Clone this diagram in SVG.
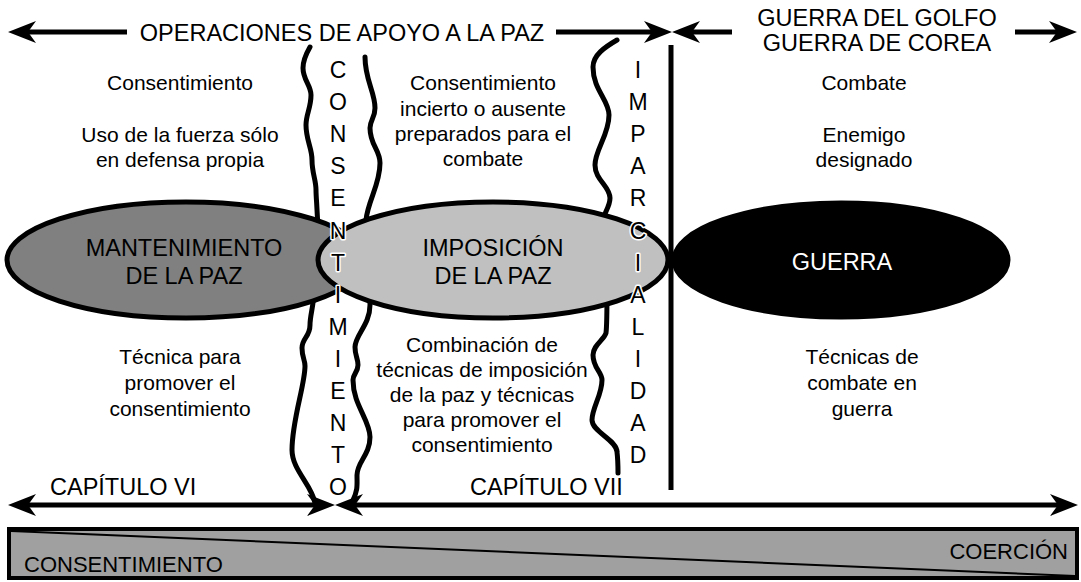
<svg xmlns="http://www.w3.org/2000/svg" xmlns:xlink="http://www.w3.org/1999/xlink" width="1081" height="582" viewBox="0 0 1081 582">
<style>
text{font-family:"Liberation Sans",Arial,sans-serif;fill:#000}
.big{font-size:23.5px}
.sm{font-size:21px}
.mid{text-anchor:middle}
.vert{font-size:23px;text-anchor:middle;stroke:#fff;stroke-width:3;paint-order:stroke;stroke-linejoin:round}
.ln{stroke:#000;stroke-width:5;fill:none}
.wave{stroke:#000;stroke-width:5;fill:none;stroke-linecap:round;stroke-linejoin:round}
.ell{stroke:#000;stroke-width:5}
</style>
<defs>
<path id="ah" d="M0,0 L-28,-11 L-20,0 L-28,11 Z" fill="#000"/>
</defs>
<rect width="1081" height="582" fill="#fff"/>

<g id="connectors">
<line class="ln" x1="24" y1="32" x2="127" y2="32"/>
<use xlink:href="#ah" transform="translate(8,32) rotate(180)"/>
<line class="ln" x1="556" y1="32" x2="656" y2="32"/>
<use xlink:href="#ah" transform="translate(672,32)"/>
<line class="ln" x1="688" y1="32" x2="732" y2="32"/>
<use xlink:href="#ah" transform="translate(672,32) rotate(180)"/>
<line class="ln" x1="1015" y1="32" x2="1060" y2="32"/>
<use xlink:href="#ah" transform="translate(1077,32)"/>
<line class="ln" x1="671" y1="45" x2="671" y2="490"/>
<line class="ln" x1="24" y1="505" x2="318" y2="505"/>
<use xlink:href="#ah" transform="translate(8,505) rotate(180)"/>
<use xlink:href="#ah" transform="translate(335,505)"/>
<line class="ln" x1="352" y1="505" x2="1062" y2="505"/>
<use xlink:href="#ah" transform="translate(335,505) rotate(180)"/>
<use xlink:href="#ah" transform="translate(1078,505)"/>
<path class="wave" d="M310,47 C306,54 303,60 303,68 C303,80 311,85 311,95 C311,108 306,114 306,125 C306,140 312,148 312,160 C312,173 316,180 316,190 C316,200 318,212 318,240"/>
<path class="wave" d="M314,290 C314,305 310,315 310,325 C310,337 302,338 302,348 C302,357 305,360 305,366 C305,385 292,420 292,450 C292,470 312,485 315,503"/>
<path class="wave" d="M365,57 C365,80 375,92 375,108 C375,118 370,120 370,128 C370,145 380,150 380,163 C380,185 368,200 366,220 C365,230 362,240 362,245"/>
<path class="wave" d="M370,290 C370,300 370,305 370,305 C370,325 355,335 355,347 C355,356 358,358 358,365 C358,372 353,374 353,380 C353,405 370,420 370,437 C370,455 357,462 357,475 C357,485 358,490 353,500"/>
<path class="wave" d="M617,40 C605,47 593,55 593,67 C593,90 609,100 609,115 C609,135 595,150 595,165 C595,180 610,186 610,198 C610,210 600,215 600,235"/>
<path class="wave" d="M607,290 C607,305 607,325 606,333 C604,340 593,345 593,355 C593,368 602,372 602,380 C602,395 592,408 592,420 C592,432 617,440 617,452 C618,460 618,468 618,473"/>
</g>

<g id="node-mantenimiento">
<ellipse class="ell" cx="186" cy="260" rx="179" ry="58" fill="#808080"/>
<text class="big mid" x="184" y="256">MANTENIMIENTO</text>
<text class="big mid" x="184" y="284">DE LA PAZ</text>
</g>
<g id="node-imposicion">
<ellipse class="ell" cx="493" cy="260" rx="175" ry="58" fill="#c0c0c0"/>
<text class="big mid" x="493" y="256">IMPOSICIÓN</text>
<text class="big mid" x="493" y="284">DE LA PAZ</text>
</g>
<g id="node-guerra">
<ellipse class="ell" cx="841" cy="260" rx="167" ry="57" fill="#000"/>
<text class="big mid" x="842" y="270" style="fill:#fff">GUERRA</text>
</g>

<g id="node-consentimiento-vertical">
<text class="vert" x="338" y="78"><tspan x="338">C</tspan><tspan x="338" dy="32.1">O</tspan><tspan x="338" dy="32.1">N</tspan><tspan x="338" dy="32.1">S</tspan><tspan x="338" dy="32.1">E</tspan><tspan x="338" dy="32.1">N</tspan><tspan x="338" dy="32.1">T</tspan><tspan x="338" dy="32.1">I</tspan><tspan x="338" dy="32.1">M</tspan><tspan x="338" dy="32.1">I</tspan><tspan x="338" dy="32.1">E</tspan><tspan x="338" dy="32.1">N</tspan><tspan x="338" dy="32.1">T</tspan><tspan x="338" dy="32.1">O</tspan></text>
</g>
<g id="node-imparcialidad-vertical">
<text class="vert" x="638" y="78"><tspan x="638">I</tspan><tspan x="638" dy="32.1">M</tspan><tspan x="638" dy="32.1">P</tspan><tspan x="638" dy="32.1">A</tspan><tspan x="638" dy="32.1">R</tspan><tspan x="638" dy="32.1">C</tspan><tspan x="638" dy="32.1">I</tspan><tspan x="638" dy="32.1">A</tspan><tspan x="638" dy="32.1">L</tspan><tspan x="638" dy="32.1">I</tspan><tspan x="638" dy="32.1">D</tspan><tspan x="638" dy="32.1">A</tspan><tspan x="638" dy="32.1">D</tspan></text>
</g>

<g id="node-headers">
<text class="big mid" x="342" y="41">OPERACIONES DE APOYO A LA PAZ</text>
<text class="big mid" x="877" y="26">GUERRA DEL GOLFO</text>
<text class="big mid" x="877" y="51">GUERRA DE COREA</text>
</g>

<g id="node-left-top">
<text class="sm mid" x="180" y="90">Consentimiento</text>
<text class="sm mid" x="180" y="142">Uso de la fuerza sólo</text>
<text class="sm mid" x="180" y="167">en defensa propia</text>
</g>
<g id="node-mid-top">
<text class="sm mid" x="483" y="90">Consentimiento</text>
<text class="sm mid" x="483" y="116">incierto o ausente</text>
<text class="sm mid" x="483" y="141">preparados para el</text>
<text class="sm mid" x="483" y="166">combate</text>
</g>
<g id="node-right-top">
<text class="sm mid" x="864" y="90">Combate</text>
<text class="sm mid" x="864" y="142">Enemigo</text>
<text class="sm mid" x="864" y="167">designado</text>
</g>
<g id="node-left-bottom">
<text class="sm mid" x="180" y="364">Técnica para</text>
<text class="sm mid" x="180" y="390">promover el</text>
<text class="sm mid" x="180" y="416">consentimiento</text>
</g>
<g id="node-mid-bottom">
<text class="sm mid" x="482" y="352">Combinación de</text>
<text class="sm mid" x="482" y="377">técnicas de imposición</text>
<text class="sm mid" x="482" y="402">de la paz y técnicas</text>
<text class="sm mid" x="482" y="427">para promover el</text>
<text class="sm mid" x="482" y="452">consentimiento</text>
</g>
<g id="node-right-bottom">
<text class="sm mid" x="862" y="364">Técnicas de</text>
<text class="sm mid" x="862" y="390">combate en</text>
<text class="sm mid" x="862" y="416">guerra</text>
</g>
<g id="node-capitulos">
<text class="big" x="50" y="495">CAPÍTULO VI</text>
<text class="big" x="470" y="495">CAPÍTULO VII</text>
</g>
<g id="node-bar">
<rect x="9" y="529" width="1068" height="49" fill="#a0a0a0" stroke="#000" stroke-width="4"/>
<line x1="11" y1="531" x2="1075" y2="576" stroke="#000" stroke-width="2"/>
<text class="big" x="24" y="572" style="font-size:22px">CONSENTIMIENTO</text>
<text class="big" x="1068" y="559" style="font-size:22px;text-anchor:end">COERCIÓN</text>
</g>
</svg>
